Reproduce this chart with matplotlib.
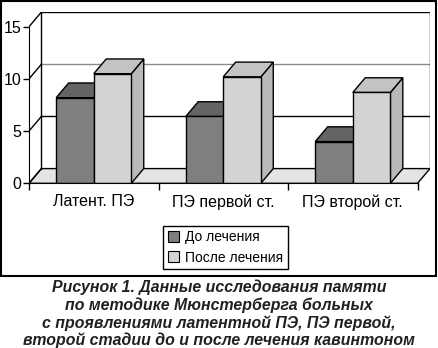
import matplotlib
matplotlib.use("Agg")
import matplotlib.pyplot as plt
from matplotlib.patches import Polygon, Rectangle, Patch
from matplotlib.lines import Line2D

plt.rcParams['font.family'] = ['Liberation Sans', 'DejaVu Sans']

# Memory test scores (Münsterberg method)
categories = ['Латент. ПЭ', 'ПЭ первой ст.', 'ПЭ второй ст.']
before = [8.2, 6.4, 4.0]
after = [10.5, 10.2, 8.7]
series_names = ['До лечения', 'После лечения']
yticks = [0, 5, 10, 15]
caption = ['Рисунок 1. Данные исследования памяти',
           'по методике Мюнстерберга больных',
           'с проявлениями латентной ПЭ, ПЭ первой,',
           'второй стадии до и после лечения кавинтоном']

# colours: front, top, side
dark = ('#7f7f7f', '#646464', '#5a5a5a')
light = ('#d3d3d3', '#c3c3c3', '#b9b9b9')

W, H = 438, 348
fig = plt.figure(figsize=(W / 100, H / 100), dpi=100)

ymax = 15
ddx = 0.096   # depth offset, category units
ddy = 1.41    # depth offset, value units
ax = fig.add_axes([29 / W, 1 - 183.3 / H, (430 - 29) / W, (183.3 - 12) / H])
ax.set_xlim(-0.5, len(categories) - 0.5 + ddx)
ax.set_ylim(0, ymax + ddy)
ax.patch.set_visible(False)

x0, x1 = -0.5, len(categories) - 0.5

# floor
ax.add_patch(Polygon([(x0, 0), (x1, 0), (x1 + ddx, ddy), (x0 + ddx, ddy)],
                     closed=True, facecolor='#e4e4e4', edgecolor='black',
                     linewidth=1, zorder=1))
# back wall gridlines and left wall diagonals
for v in yticks[1:]:
    c = '#8a8a8a' if v == 10 else 'black'
    ax.add_line(Line2D([x0 + ddx, x1 + ddx], [v + ddy, v + ddy], color=c, lw=1, zorder=1))
for v in yticks:
    ax.add_line(Line2D([x0, x0 + ddx], [v, v + ddy], color='black', lw=1, zorder=1))
for xe in (x0 + ddx, x1 + ddx):
    ax.add_line(Line2D([xe, xe], [ddy, ymax + ddy], color='black', lw=1, zorder=1))


def bar3d(left, width, h, cols):
    r = left + width
    side = [(r, 0), (r + ddx, ddy), (r + ddx, h + ddy), (r, h)]
    top = [(left, h), (r, h), (r + ddx, h + ddy), (left + ddx, h + ddy)]
    ax.add_patch(Polygon(side, closed=True, facecolor=cols[2], edgecolor='black', lw=1, zorder=2))
    ax.add_patch(Polygon(top, closed=True, facecolor=cols[1], edgecolor='black', lw=1, zorder=2))
    ax.add_patch(Rectangle((left, 0), width, h, facecolor=cols[0], edgecolor='black', lw=1, zorder=2))


bw = 0.29
for i in range(len(categories)):
    bar3d(i - bw, bw, before[i], dark)
    bar3d(i, bw, after[i], light)

# axes
for s in ('top', 'right'):
    ax.spines[s].set_visible(False)
ax.spines['left'].set_bounds(0, ymax)
ax.spines['bottom'].set_bounds(x0, x1)
for s in ('left', 'bottom'):
    ax.spines[s].set_zorder(3)
ax.set_yticks(yticks)
ax.tick_params(axis='y', length=4, width=1, pad=1.5, labelsize=11.5)
ax.set_xticks([x0 + k for k in range(len(categories) + 1)])
ax.set_xticklabels([])
ax.set_xticks(range(len(categories)), minor=True)
ax.set_xticklabels(categories, minor=True)
ax.tick_params(axis='x', which='major', length=5, width=1)
ax.tick_params(axis='x', which='minor', length=0, pad=8, labelsize=11.5)

handles = [Patch(facecolor=dark[0], edgecolor='black', lw=0.8),
           Patch(facecolor=light[0], edgecolor='black', lw=0.8)]
leg = fig.legend(handles, series_names, loc='center',
                 bbox_to_anchor=(225.5 / W, 1 - 247.5 / H),
                 fontsize=10, handlelength=0.8, handleheight=0.8,
                 handletextpad=0.4, labelspacing=0.45, borderpad=0.35,
                 fancybox=False, framealpha=1, edgecolor='black')
leg.get_frame().set_linewidth(1)

# outer frame
fig.add_artist(Rectangle((1 / W, 1 - 275.5 / H), 435 / W, 274.5 / H,
                         transform=fig.transFigure, fill=False,
                         edgecolor='black', linewidth=1.5))

for k, line in enumerate(caption):
    fig.text(0.5, 1 - (287.5 + 17.6 * k) / H, line, ha='center', va='center',
             fontsize=11.4, fontweight='bold', fontstyle='italic', color='#231f20')

fig.savefig('out.png', dpi=100)
